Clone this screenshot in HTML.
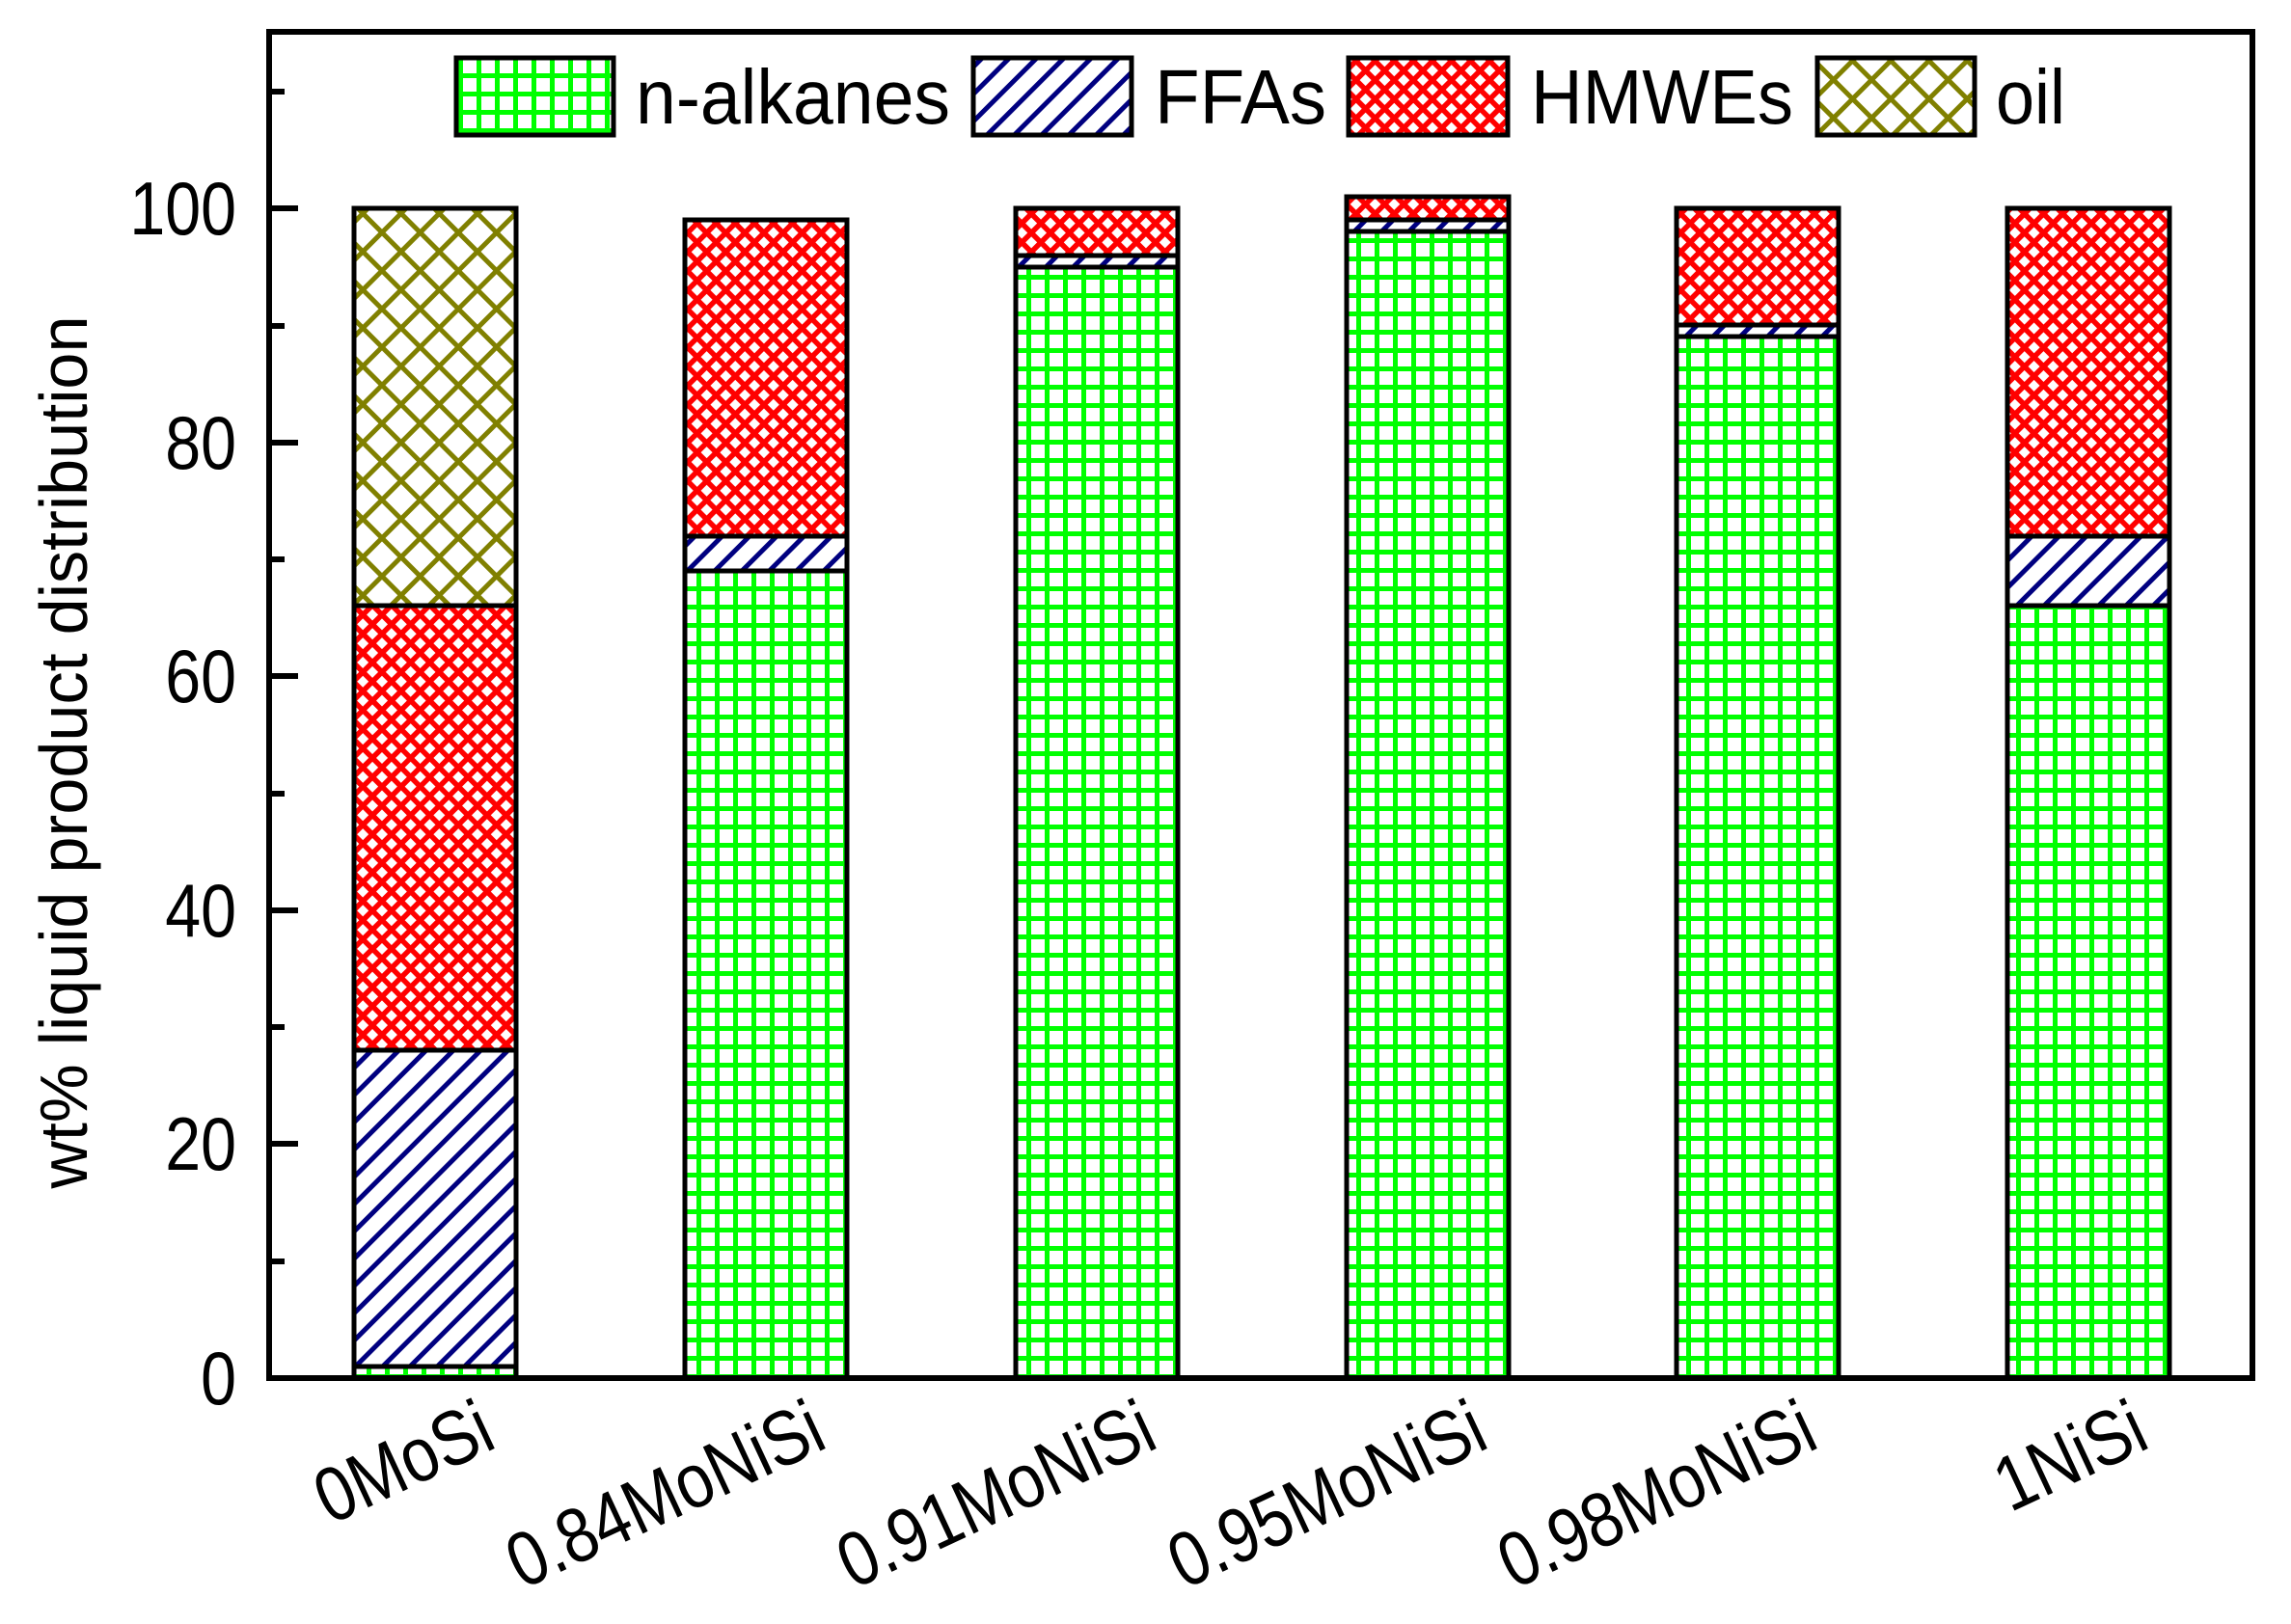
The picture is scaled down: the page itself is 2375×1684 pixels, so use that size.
<!DOCTYPE html>
<html><head><meta charset="utf-8"><style>html,body{margin:0;padding:0;background:#fff}svg{display:block}</style></head>
<body>
<svg width="2375" height="1684" viewBox="0 0 2375 1684" xmlns="http://www.w3.org/2000/svg" font-family="Liberation Sans, Arial, sans-serif">
<defs>
<pattern id="g" patternUnits="userSpaceOnUse" width="19" height="19">
<rect width="19" height="19" fill="#fff"/>
<rect x="0" y="0" width="5" height="19" fill="#00ff00"/>
<rect x="0" y="0" width="19" height="5" fill="#00ff00"/>
</pattern>
<pattern id="b" patternUnits="userSpaceOnUse" width="20" height="20" patternTransform="rotate(45)">
<rect width="20" height="20" fill="#fff"/>
<rect x="0" y="0" width="5" height="20" fill="#000080"/>
</pattern>
<pattern id="r" patternUnits="userSpaceOnUse" width="14" height="14" patternTransform="rotate(45)">
<rect width="14" height="14" fill="#fff"/>
<rect x="0" y="0" width="5.5" height="14" fill="#ff0000"/>
<rect x="0" y="0" width="14" height="5.5" fill="#ff0000"/>
</pattern>
<pattern id="o" patternUnits="userSpaceOnUse" width="28" height="28" patternTransform="rotate(45)">
<rect width="28" height="28" fill="#fff"/>
<rect x="0" y="0" width="5" height="28" fill="#808000"/>
<rect x="0" y="0" width="28" height="5" fill="#808000"/>
</pattern>
</defs>

<g stroke="#000" stroke-width="5">
<rect x="367" y="1417" width="168" height="12" fill="url(#g)"/>
<rect x="367" y="1089" width="168" height="328" fill="url(#b)"/>
<rect x="367" y="628" width="168" height="461" fill="url(#r)"/>
<rect x="367" y="216" width="168" height="412" fill="url(#o)"/>
<rect x="710" y="592" width="168" height="837" fill="url(#g)"/>
<rect x="710" y="556" width="168" height="36" fill="url(#b)"/>
<rect x="710" y="228" width="168" height="328" fill="url(#r)"/>
<rect x="1053" y="277" width="168" height="1152" fill="url(#g)"/>
<rect x="1053" y="265" width="168" height="12" fill="url(#b)"/>
<rect x="1053" y="216" width="168" height="49" fill="url(#r)"/>
<rect x="1396" y="240" width="168" height="1189" fill="url(#g)"/>
<rect x="1396" y="228" width="168" height="12" fill="url(#b)"/>
<rect x="1396" y="204" width="168" height="24" fill="url(#r)"/>
<rect x="1738" y="349" width="168" height="1080" fill="url(#g)"/>
<rect x="1738" y="337" width="168" height="12" fill="url(#b)"/>
<rect x="1738" y="216" width="168" height="121" fill="url(#r)"/>
<rect x="2081" y="628" width="168" height="801" fill="url(#g)"/>
<rect x="2081" y="556" width="168" height="72" fill="url(#b)"/>
<rect x="2081" y="216" width="168" height="340" fill="url(#r)"/>
</g>

<rect x="279" y="33" width="2056" height="1396" fill="none" stroke="#000" stroke-width="6"/>
<g stroke="#000" stroke-width="6">
<line x1="279" y1="1429" x2="309" y2="1429"/>
<line x1="279" y1="1308" x2="295" y2="1308"/>
<line x1="279" y1="1186" x2="309" y2="1186"/>
<line x1="279" y1="1065" x2="295" y2="1065"/>
<line x1="279" y1="944" x2="309" y2="944"/>
<line x1="279" y1="823" x2="295" y2="823"/>
<line x1="279" y1="701" x2="309" y2="701"/>
<line x1="279" y1="580" x2="295" y2="580"/>
<line x1="279" y1="459" x2="309" y2="459"/>
<line x1="279" y1="338" x2="295" y2="338"/>
<line x1="279" y1="216" x2="309" y2="216"/>
<line x1="279" y1="95" x2="295" y2="95"/>
</g>
<g font-size="78" text-anchor="end" fill="#000">
<text transform="translate(245,1456) scale(0.85,1)">0</text>
<text transform="translate(245,1213) scale(0.85,1)">20</text>
<text transform="translate(245,971) scale(0.85,1)">40</text>
<text transform="translate(245,728) scale(0.85,1)">60</text>
<text transform="translate(245,486) scale(0.85,1)">80</text>
<text transform="translate(245,243) scale(0.85,1)">100</text>
</g>
<text transform="translate(90,780) rotate(-90)" font-size="70" text-anchor="middle" textLength="905" lengthAdjust="spacingAndGlyphs">wt% liquid product distribution</text>

<g font-size="80" text-anchor="end" fill="#000">
<text transform="translate(517,1500) rotate(-25) scale(0.85,1)">0MoSi</text>
<text transform="translate(860,1500) rotate(-25) scale(0.85,1)">0.84MoNiSi</text>
<text transform="translate(1203,1500) rotate(-25) scale(0.85,1)">0.91MoNiSi</text>
<text transform="translate(1546,1500) rotate(-25) scale(0.85,1)">0.95MoNiSi</text>
<text transform="translate(1888,1500) rotate(-25) scale(0.85,1)">0.98MoNiSi</text>
<text transform="translate(2231,1500) rotate(-25) scale(0.85,1)">1NiSi</text>
</g>

<g stroke="#000" stroke-width="5">
<rect x="473" y="60" width="163" height="80" fill="url(#g)"/>
<rect x="1009" y="60" width="164" height="80" fill="url(#b)"/>
<rect x="1398" y="60" width="165" height="80" fill="url(#r)"/>
<rect x="1884" y="60" width="163" height="80" fill="url(#o)"/>
</g>
<g font-size="80" fill="#000">
<text x="659" y="128" textLength="326" lengthAdjust="spacingAndGlyphs">n-alkanes</text>
<text x="1197" y="128" textLength="178" lengthAdjust="spacingAndGlyphs">FFAs</text>
<text x="1587" y="128" textLength="272" lengthAdjust="spacingAndGlyphs">HMWEs</text>
<text x="2069" y="128" textLength="72" lengthAdjust="spacingAndGlyphs">oil</text>
</g>
</svg>
</body></html>
